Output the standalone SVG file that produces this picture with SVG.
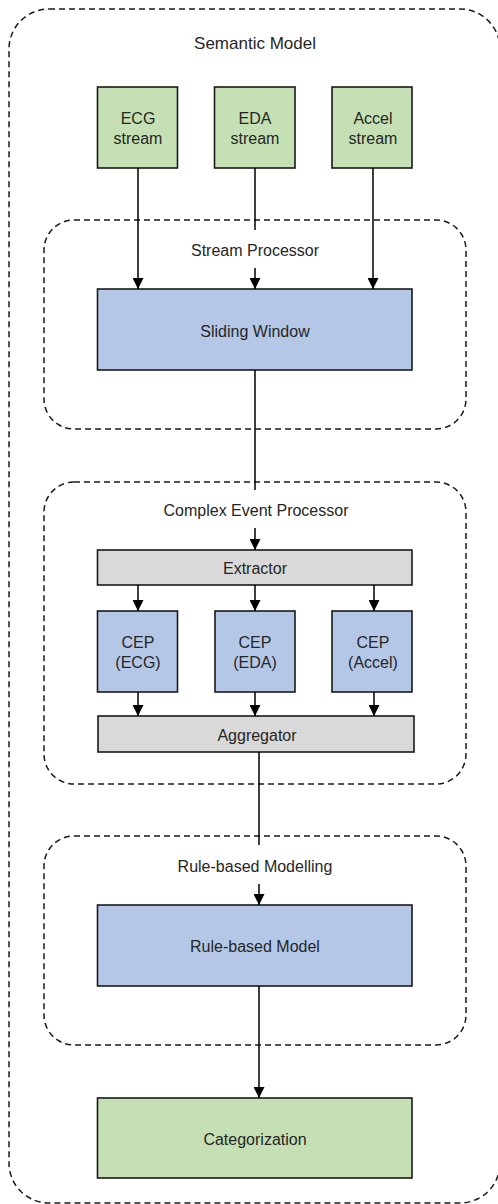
<svg xmlns="http://www.w3.org/2000/svg" width="498" height="1204" viewBox="0 0 498 1204">
<style>
.cont{fill:none;stroke:#1a1a1a;stroke-width:1.5;stroke-dasharray:6,4}
.node{stroke:#1a1a1a;stroke-width:1.6}
.green{fill:#c5e0b4}
.blue{fill:#b4c7e7}
.grey{fill:#d9d9d9}
text{font-family:"Liberation Sans",Arial,sans-serif;font-size:16px;fill:#262626;text-anchor:middle;dominant-baseline:central}
.conn{fill:none;stroke:#000;stroke-width:1.5}
</style>
<defs>
<marker id="arr" markerUnits="userSpaceOnUse" markerWidth="11" markerHeight="11" refX="11" refY="5.5" orient="auto">
<path d="M0,0 L11,5.5 L0,11 z" fill="#000"/>
</marker>
</defs>
<rect fill="#fff" x="0" y="0" width="498" height="1204"/>
<g id="semantic-model">
<rect class="cont" x="9" y="9" width="491" height="1194" rx="40"/>
<text x="255" y="43" style="font-size:17px">Semantic Model</text>
</g>
<g id="stream-processor">
<rect class="cont" x="44" y="220" width="422" height="209" rx="30"/>
<text x="255" y="250">Stream Processor</text>
</g>
<g id="complex-event-processor">
<rect class="cont" x="44" y="482" width="422" height="302" rx="30"/>
<text x="256" y="510">Complex Event Processor</text>
</g>
<g id="rule-based-modelling">
<rect class="cont" x="44" y="836" width="422" height="209" rx="30"/>
<text x="255" y="866">Rule-based Modelling</text>
</g>
<g id="ecg-stream">
<rect class="node green" x="97.5" y="87" width="80" height="81"/>
<text x="138" y="118">ECG</text><text x="138" y="138">stream</text>
</g>
<g id="eda-stream">
<rect class="node green" x="214.5" y="87" width="80.5" height="81"/>
<text x="255" y="118">EDA</text><text x="255" y="138">stream</text>
</g>
<g id="accel-stream">
<rect class="node green" x="332" y="87" width="80" height="81"/>
<text x="373" y="118">Accel</text><text x="373" y="138">stream</text>
</g>
<g id="sliding-window">
<rect class="node blue" x="97.5" y="289" width="314.5" height="81"/>
<text x="255" y="331">Sliding Window</text>
</g>
<g id="extractor">
<rect class="node grey" x="97.5" y="550" width="314.5" height="35"/>
<text x="255" y="568">Extractor</text>
</g>
<g id="cep-ecg">
<rect class="node blue" x="97.5" y="611" width="80" height="81"/>
<text x="138" y="642">CEP</text><text x="138" y="662">(ECG)</text>
</g>
<g id="cep-eda">
<rect class="node blue" x="215" y="611" width="80" height="81"/>
<text x="255" y="642">CEP</text><text x="255" y="662">(EDA)</text>
</g>
<g id="cep-accel">
<rect class="node blue" x="332" y="611" width="80" height="81"/>
<text x="373" y="642">CEP</text><text x="373" y="662">(Accel)</text>
</g>
<g id="aggregator">
<rect class="node grey" x="98" y="716" width="316" height="36"/>
<text x="257" y="735">Aggregator</text>
</g>
<g id="rule-based-model">
<rect class="node blue" x="97.5" y="905" width="314.5" height="81"/>
<text x="255" y="946">Rule-based Model</text>
</g>
<g id="categorization">
<rect class="node green" x="97.5" y="1098" width="314.5" height="80"/>
<text x="255" y="1139">Categorization</text>
</g>
<g id="connectors">
<path class="conn" d="M138,168 V289" marker-end="url(#arr)"/>
<path class="conn" d="M255,168 V230"/>
<path class="conn" d="M255,268 V289" marker-end="url(#arr)"/>
<path class="conn" d="M373,168 V289" marker-end="url(#arr)"/>
<path class="conn" d="M255,370 V490"/>
<path class="conn" d="M255,528 V550" marker-end="url(#arr)"/>
<path class="conn" d="M138,585 V611" marker-end="url(#arr)"/>
<path class="conn" d="M255,585 V611" marker-end="url(#arr)"/>
<path class="conn" d="M374,585 V611" marker-end="url(#arr)"/>
<path class="conn" d="M138,692 V716" marker-end="url(#arr)"/>
<path class="conn" d="M255,692 V716" marker-end="url(#arr)"/>
<path class="conn" d="M374,692 V716" marker-end="url(#arr)"/>
<path class="conn" d="M259,752 V845"/>
<path class="conn" d="M259,884 V905" marker-end="url(#arr)"/>
<path class="conn" d="M259,986 V1098" marker-end="url(#arr)"/>
</g>
</svg>
